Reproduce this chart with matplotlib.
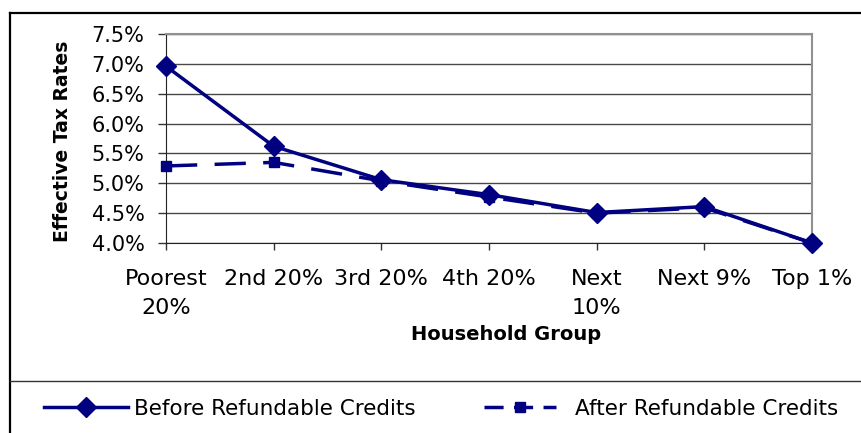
import matplotlib
matplotlib.use('Agg')
import matplotlib.pyplot as plt
from matplotlib.lines import Line2D
from matplotlib.ticker import FuncFormatter

# ---- data ----
categories = ["Poorest\n20%", "2nd 20%", "3rd 20%", "4th 20%", "Next\n10%", "Next 9%", "Top 1%"]
before = [6.96, 5.62, 5.06, 4.81, 4.51, 4.61, 4.00]
after = [5.29, 5.35, 5.04, 4.77, 4.50, 4.59, 4.00]
yticks = [4.0, 4.5, 5.0, 5.5, 6.0, 6.5, 7.0, 7.5]
series_labels = ["Before Refundable Credits", "After Refundable Credits"]
ylabel = "Effective Tax Rates"
xlabel = "Household Group"

W, H = 862, 433
plt.rcParams['font.family'] = ['DejaVu Sans']
fig = plt.figure(figsize=(W / 100, H / 100), dpi=100)
fig.patch.set_facecolor('white')

ax = fig.add_axes([166 / W, 1 - 243 / H, (812 - 166) / W, (243 - 34) / H])
navy = '#000080'
xs = list(range(len(categories)))
ax.plot(xs, before, color=navy, lw=2.5, marker='D', ms=10.5, clip_on=False, zorder=5)
ax.plot(xs, after, color=navy, lw=2.5, dashes=(9, 5), marker='s', ms=7, clip_on=False, zorder=4)

ax.set_xlim(0, len(categories) - 1)
ax.set_ylim(yticks[0], yticks[-1])
ax.set_yticks(yticks)
ax.yaxis.set_major_formatter(FuncFormatter(lambda v, p: f"{v:.1f}%"))
ax.set_xticks(xs)
ax.set_xticklabels(categories, linespacing=1.6)
ax.grid(axis='y', color='#484848', lw=1)
ax.set_axisbelow(True)

ax.tick_params(axis='x', length=5, width=1, pad=13.5, labelsize=16, color='#333333')
ax.tick_params(axis='y', length=5.5, width=1, pad=10, labelsize=15, color='#333333')
for s in ['top', 'right']:
    ax.spines[s].set_color('#909090')
    ax.spines[s].set_linewidth(1.5)
ax.spines['left'].set_color('#222222')
ax.spines['bottom'].set_color('#222222')

fig.text(63 / W, 1 - 141 / H, ylabel, rotation=90, ha='center', va='center',
         fontsize=13.5, fontweight='bold')
fig.text(506 / W, 1 - 334 / H, xlabel, ha='center', va='center',
         fontsize=14, fontweight='bold')

# figure borders
fig.add_artist(Line2D([10 / W, 1], [1 - 13 / H, 1 - 13 / H], transform=fig.transFigure, color='black', lw=1.6))
fig.add_artist(Line2D([10.5 / W, 10.5 / W], [0, 1 - 13 / H], transform=fig.transFigure, color='black', lw=1.6))
fig.add_artist(Line2D([10 / W, 1], [1 - 381 / H, 1 - 381 / H], transform=fig.transFigure, color='#333333', lw=1.0))

h1 = Line2D([], [], color=navy, lw=2.5, marker='D', ms=10.5)
h2 = Line2D([], [], color=navy, lw=2.5, dashes=(5.5, 3), marker='s', ms=7)
fig.legend(handles=[h1], labels=[series_labels[0]], loc='center left',
           bbox_to_anchor=(44 / W, 1 - 409 / H), frameon=False, borderpad=0, borderaxespad=0,
           handlelength=3.9, handletextpad=0.28, fontsize=15.5, numpoints=1)
fig.legend(handles=[h2], labels=[series_labels[1]], loc='center left',
           bbox_to_anchor=(484 / W, 1 - 409 / H), frameon=False, borderpad=0, borderaxespad=0,
           handlelength=3.34, handletextpad=0.9, fontsize=15.5, numpoints=1)

fig.savefig('out.png', dpi=100)
